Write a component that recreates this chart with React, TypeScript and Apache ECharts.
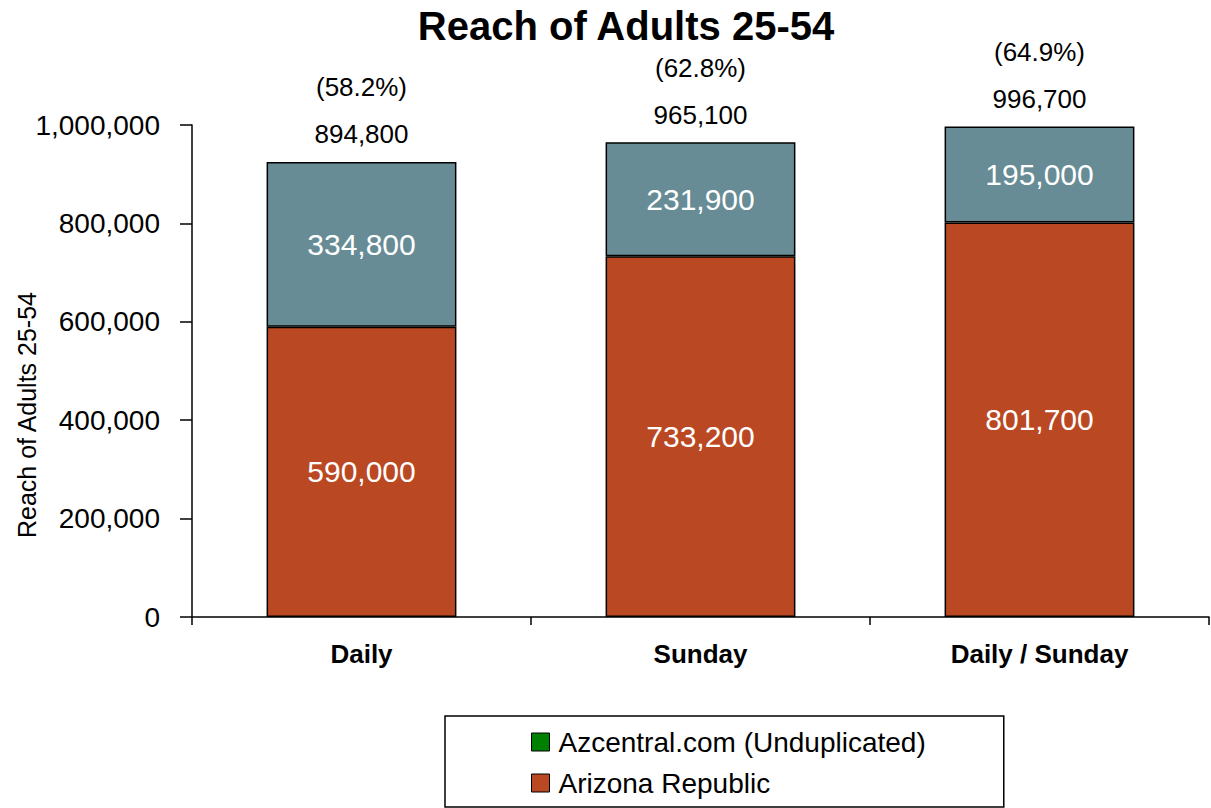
import React, { useEffect, useRef } from "react";
import * as echarts from "echarts";

const categories = ["Daily", "Sunday", "Daily / Sunday"];
const arizonaRepublic = [590000, 733200, 801700];
const azcentral = [334800, 231900, 195000];
const totalLabels = ["894,800", "965,100", "996,700"];
const percentLabels = ["(58.2%)", "(62.8%)", "(64.9%)"];
const yTicks = { min: 0, max: 1000000, interval: 200000 };

const FONT = "'Liberation Sans', Arial, sans-serif";
const RED = "#BA4822";
const TEAL = "#678C96";

const fmt = (v: number) => v.toLocaleString("en-US");

export default function App() {
  const ref = useRef<HTMLDivElement>(null);
  useEffect(() => {
    if (!ref.current) return;
    const chart = echarts.init(ref.current, null, { renderer: "svg" });
    const totals = arizonaRepublic.map((v, i) => v + azcentral[i]);
    chart.setOption({
      animation: false,
      backgroundColor: "#ffffff",
      textStyle: { fontFamily: FONT },
      title: {
        text: "Reach of Adults 25-54",
        left: 621,
        top: 1,
        textAlign: "center",
        textStyle: { fontFamily: FONT, fontSize: 40, fontWeight: "bold", color: "#000" },
      },
      legend: {
        orient: "vertical",
        left: 445,
        top: 716,
        padding: [12, 78, 10, 86],
        itemGap: 13,
        itemWidth: 18,
        itemHeight: 18,
        borderColor: "#000",
        borderWidth: 1.5,
        textStyle: { fontFamily: FONT, fontSize: 28, color: "#000", padding: [0, 0, 0, 4] },
        data: [
          { name: "Azcentral.com (Unduplicated)", icon: "rect", itemStyle: { color: "#008000", borderColor: "#000", borderWidth: 1 } },
          { name: "Arizona Republic", icon: "rect", itemStyle: { color: RED, borderColor: "#000", borderWidth: 1 } },
        ],
      },
      graphic: [
        {
          type: "text",
          x: 27,
          y: 415,
          rotation: Math.PI / 2,
          style: {
            text: "Reach of Adults 25-54",
            fontFamily: FONT,
            fontSize: 25,
            fill: "#000",
            align: "center",
            verticalAlign: "middle",
          },
        },
      ],
      grid: { left: 192, top: 125, width: 1017, height: 492, containLabel: false },
      xAxis: {
        type: "category",
        data: categories,
        axisLine: { lineStyle: { color: "#000", width: 1.5 } },
        axisTick: { show: true, length: 8, lineStyle: { color: "#000", width: 1.5 } },
        axisLabel: { margin: 24, color: "#000", fontFamily: FONT, fontSize: 26, fontWeight: "bold" },
      },
      yAxis: {
        type: "value",
        min: yTicks.min,
        max: yTicks.max,
        interval: yTicks.interval,
        axisLine: { show: true, lineStyle: { color: "#000", width: 1.5 } },
        axisTick: { show: true, length: 12, lineStyle: { color: "#000", width: 1.5 } },
        splitLine: { show: false },
        axisLabel: { margin: 32, color: "#000", fontFamily: FONT, fontSize: 28, formatter: (v: number) => fmt(v) },
      },
      series: [
        {
          name: "Arizona Republic",
          type: "bar",
          stack: "reach",
          barWidth: "56%",
          data: arizonaRepublic,
          itemStyle: { color: RED, borderColor: "#000", borderWidth: 1.5 },
          label: {
            show: true,
            position: "inside",
            color: "#fff",
            fontFamily: FONT,
            fontSize: 30,
            formatter: (p: any) => fmt(p.value),
          },
        },
        {
          name: "Azcentral.com (Unduplicated)",
          type: "bar",
          stack: "reach",
          barWidth: "56%",
          data: azcentral,
          itemStyle: { color: TEAL, borderColor: "#000", borderWidth: 1.5 },
          label: {
            show: true,
            position: "inside",
            color: "#fff",
            fontFamily: FONT,
            fontSize: 30,
            formatter: (p: any) => fmt(p.value),
          },
        },
        {
          name: "Totals",
          type: "scatter",
          data: totals,
          symbolSize: 0,
          itemStyle: { color: "transparent", opacity: 1 },
          silent: true,
          label: {
            show: true,
            position: "top",
            distance: 4,
            color: "#000",
            opacity: 1,
            fontFamily: FONT,
            formatter: (p: any) => `{p|${percentLabels[p.dataIndex]}}\n{t|${totalLabels[p.dataIndex]}}`,
            rich: {
              p: { fontFamily: FONT, fontSize: 26, color: "#000", lineHeight: 47 },
              t: { fontFamily: FONT, fontSize: 26, color: "#000", lineHeight: 47 },
            },
          },
        },
      ],
    });
    return () => chart.dispose();
  }, []);
  return (
    <div
      ref={ref}
      style={{ position: "fixed", left: 0, top: 0, width: 1211, height: 808, background: "#fff" }}
    />
  );
}
